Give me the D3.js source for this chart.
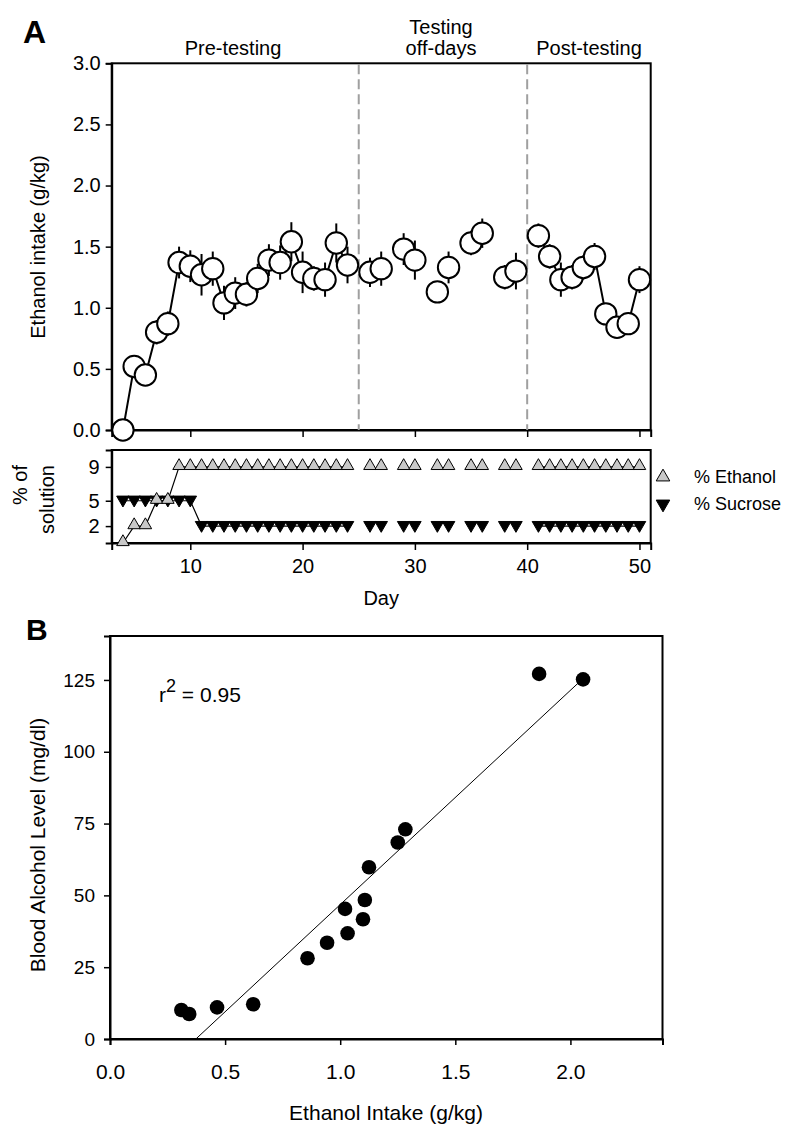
<!DOCTYPE html>
<html>
<head>
<meta charset="utf-8">
<script src="https://cdn.jsdelivr.net/npm/d3@7"></script>
<style>
  html, body { margin: 0; padding: 0; background: #fff; }
  svg { display: block; font-family: "Liberation Sans", Arial, sans-serif; }
</style>
</head>
<body>
<svg id="chart" width="790" height="1138"></svg>
<script>
// ---------------- Data ----------------
// Panel A (top): ethanol intake (g/kg) by day, mean and SEM
const intakeDays = [4,5,6,7,8,9,10,11,12,13,14,15,16,17,18,19,20,21,22,23,24,
                    26,27,29,30,32,33,35,36,38,39,
                    41,42,43,44,45,46,47,48,49,50];
const intakeMean = [0.00,0.52,0.45,0.80,0.87,1.37,1.34,1.27,1.32,1.04,1.12,1.11,1.24,1.39,1.37,1.54,1.29,1.24,1.23,1.53,1.35,
                    1.29,1.32,1.48,1.39,1.13,1.33,1.53,1.61,1.25,1.30,
                    1.59,1.42,1.23,1.25,1.33,1.42,0.95,0.84,0.87,1.23];
const intakeSem  = [0.00,0.09,0.06,0.10,0.10,0.13,0.13,0.17,0.14,0.14,0.13,0.10,0.12,0.13,0.14,0.16,0.17,0.10,0.14,0.16,0.15,
                    0.12,0.14,0.13,0.16,0.08,0.13,0.10,0.12,0.10,0.15,
                    0.10,0.10,0.14,0.10,0.10,0.11,0.08,0.08,0.08,0.11];
// Connected runs of days (first day, last day)
const connectedRuns = [[4,24],[41,50]];
// Phase boundaries and labels
const phaseDividers = [25, 40];
const phaseLabels = [
  {lines: ["Pre-testing"], x: 233},
  {lines: ["Testing", "off-days"], x: 441},
  {lines: ["Post-testing"], x: 589}
];
const intakeYTicks = [0, 0.5, 1.0, 1.5, 2.0, 2.5, 3.0];
const dayTicks = [10, 20, 30, 40, 50];

// Panel A (bottom strip): % of solution
const ethanolPct = [0,2,2,5,5,9,9,9,9,9,9,9,9,9,9,9,9,9,9,9,9,
                    9,9,9,9,9,9,9,9,9,9,
                    9,9,9,9,9,9,9,9,9,9];
const sucrosePct = [5,5,5,5,5,5,5,2,2,2,2,2,2,2,2,2,2,2,2,2,2,
                    2,2,2,2,2,2,2,2,2,2,
                    2,2,2,2,2,2,2,2,2,2];
const pctTicks = [2, 5, 9];
const legendItems = ["% Ethanol", "% Sucrose"];

// Panel B: blood alcohol level vs ethanol intake
const becIntake = [0.310,0.344,0.465,0.622,0.858,0.943,1.021,1.032,1.099,1.107,1.125,1.250,1.283,1.864,2.055];
const becLevel  = [10.1,8.7,11.0,12.1,28.1,33.5,45.3,36.8,41.7,48.4,59.8,68.4,73.0,127.1,125.2];
const fitLineX = [0.373, 2.055];
const fitLineY = [0.0, 125.5];
const becXTicks = [0, 0.5, 1.0, 1.5, 2.0];
const becYTicks = [0, 25, 50, 75, 100, 125];
const rSquared = "0.95";

// ---------------- Drawing ----------------
const svg = d3.select("#chart");
const black = "#000";
const FF = "Liberation Sans, Arial, sans-serif";

// ===== Panel A top =====
const A = {left: 111.7, right: 650.7, top: 63.3, bottom: 430};
const xDay = d3.scaleLinear().domain([3, 51]).range([A.left, A.right]);
const yInt = d3.scaleLinear().domain([0, 3]).range([A.bottom, A.top]);

svg.append("text").attr("x", 23).attr("y", 43)
  .attr("font-size", 32).attr("font-weight", "bold").text("A");

// frame
svg.append("rect").attr("x", A.left).attr("y", A.top)
  .attr("width", A.right - A.left).attr("height", A.bottom - A.top)
  .attr("fill", "none").attr("stroke", black).attr("stroke-width", 2);

// y axis
const yAxisA = svg.append("g").attr("transform", `translate(${A.left},0)`)
  .call(d3.axisLeft(yInt).tickValues(intakeYTicks).tickFormat(d3.format(".1f")).tickSize(6).tickPadding(5));
yAxisA.select(".domain").attr("stroke-width", 2);
yAxisA.selectAll(".tick line").attr("stroke-width", 1.5);
yAxisA.selectAll("text").attr("font-size", 20).attr("font-family", FF).attr("fill", black);

// x axis (ticks only)
const xAxisA = svg.append("g").attr("transform", `translate(0,${A.bottom})`)
  .call(d3.axisBottom(xDay).tickValues(dayTicks).tickFormat("").tickSize(7));
xAxisA.select(".domain").attr("stroke-width", 2);
xAxisA.selectAll(".tick line").attr("stroke-width", 1.5);

// phase dividers
svg.selectAll(".divider").data(phaseDividers).enter().append("line")
  .attr("x1", d => xDay(d)).attr("x2", d => xDay(d))
  .attr("y1", A.top + 1).attr("y2", A.bottom)
  .attr("stroke", "#a0a0a0").attr("stroke-width", 2).attr("stroke-dasharray", "10,5");

// phase labels
phaseLabels.forEach(p => {
  const n = p.lines.length;
  p.lines.forEach((t, i) => {
    svg.append("text").attr("x", p.x).attr("y", 55 - (n - 1 - i) * 21)
      .attr("text-anchor", "middle").attr("font-size", 20).text(t);
  });
});

// y label
svg.append("text").attr("transform", `translate(45,247) rotate(-90)`)
  .attr("text-anchor", "middle").attr("font-size", 20).text("Ethanol intake (g/kg)");

const intakePts = intakeDays.map((d, i) => ({day: d, m: intakeMean[i], s: intakeSem[i]}));

// error bars
svg.append("g").selectAll("line").data(intakePts.filter(p => p.s > 0)).enter().append("line")
  .attr("x1", p => xDay(p.day)).attr("x2", p => xDay(p.day))
  .attr("y1", p => yInt(p.m - p.s)).attr("y2", p => yInt(p.m + p.s))
  .attr("stroke", black).attr("stroke-width", 2);

// connecting lines
const lineA = d3.line().x(p => xDay(p.day)).y(p => yInt(p.m));
connectedRuns.forEach(([a, b]) => {
  svg.append("path").datum(intakePts.filter(p => p.day >= a && p.day <= b))
    .attr("d", lineA).attr("fill", "none").attr("stroke", black).attr("stroke-width", 2);
});

// circles
svg.append("g").selectAll("circle").data(intakePts).enter().append("circle")
  .attr("cx", p => xDay(p.day)).attr("cy", p => yInt(p.m)).attr("r", 10.7)
  .attr("fill", "#fff").attr("stroke", black).attr("stroke-width", 2);

// ===== Panel A bottom strip =====
const S = {left: 111.7, right: 650.7, top: 450, bottom: 543};
const yPct = d3.scaleLinear().domain([0, 11]).range([S.bottom, S.top]);

svg.append("rect").attr("x", S.left).attr("y", S.top)
  .attr("width", S.right - S.left).attr("height", S.bottom - S.top)
  .attr("fill", "none").attr("stroke", black).attr("stroke-width", 2);

const yAxisS = svg.append("g").attr("transform", `translate(${S.left},0)`)
  .call(d3.axisLeft(yPct).tickValues(pctTicks).tickSize(6).tickPadding(6));
yAxisS.select(".domain").attr("stroke-width", 2);
yAxisS.selectAll(".tick line").attr("stroke-width", 1.5);
yAxisS.selectAll("text").attr("font-size", 20).attr("font-family", FF).attr("fill", black);

const xAxisS = svg.append("g").attr("transform", `translate(0,${S.bottom})`)
  .call(d3.axisBottom(xDay).tickValues(dayTicks).tickSize(7).tickPadding(9));
xAxisS.select(".domain").attr("stroke-width", 2);
xAxisS.selectAll(".tick line").attr("stroke-width", 1.5);
xAxisS.selectAll("text").attr("font-size", 20).attr("font-family", FF).attr("fill", black);

svg.append("text").attr("x", xDay(27)).attr("y", 605)
  .attr("text-anchor", "middle").attr("font-size", 20).text("Day");

svg.append("text").attr("transform", `translate(27,465) rotate(-90)`)
  .attr("text-anchor", "end").attr("font-size", 20).text("% of");
svg.append("text").attr("transform", `translate(54,465) rotate(-90)`)
  .attr("text-anchor", "end").attr("font-size", 20).text("solution");

const solPts = intakeDays.map((d, i) => ({day: d, e: ethanolPct[i], s: sucrosePct[i]}));
const triUp = d3.symbol().type(d3.symbolTriangle).size(68)();
const triLeg = d3.symbol().type(d3.symbolTriangle).size(80)();

connectedRuns.forEach(([a, b]) => {
  const sub = solPts.filter(p => p.day >= a && p.day <= b);
  svg.append("path").datum(sub)
    .attr("d", d3.line().x(p => xDay(p.day)).y(p => yPct(p.s)))
    .attr("fill", "none").attr("stroke", black).attr("stroke-width", 1.2);
});
svg.append("g").selectAll("path").data(solPts).enter().append("path")
  .attr("d", triUp)
  .attr("transform", p => `translate(${xDay(p.day)},${yPct(p.s) - 1}) rotate(180)`)
  .attr("fill", black).attr("stroke", black).attr("stroke-width", 1);

connectedRuns.forEach(([a, b]) => {
  const sub = solPts.filter(p => p.day >= a && p.day <= b);
  svg.append("path").datum(sub)
    .attr("d", d3.line().x(p => xDay(p.day)).y(p => yPct(p.e)))
    .attr("fill", "none").attr("stroke", black).attr("stroke-width", 1.2);
});
svg.append("g").selectAll("path").data(solPts).enter().append("path")
  .attr("d", triUp)
  .attr("transform", p => `translate(${xDay(p.day)},${yPct(p.e) - 1})`)
  .attr("fill", "#c8c8c8").attr("stroke", black).attr("stroke-width", 1);

// legend
const legY = [477, 504];
svg.append("path").attr("d", triLeg).attr("transform", `translate(663,${legY[0]})`)
  .attr("fill", "#c8c8c8").attr("stroke", black).attr("stroke-width", 1);
svg.append("path").attr("d", triLeg).attr("transform", `translate(663,${legY[1]}) rotate(180)`)
  .attr("fill", black).attr("stroke", black).attr("stroke-width", 1);
legendItems.forEach((t, i) => {
  svg.append("text").attr("x", 694).attr("y", legY[i] + 6).attr("font-size", 18).text(t);
});

// ===== Panel B =====
const B = {left: 110, right: 662.5, top: 636, bottom: 1039};
const xB = d3.scaleLinear().domain([0, 2.4]).range([B.left, B.right]);
const yB = d3.scaleLinear().domain([0, 140.3]).range([B.bottom, B.top]);

svg.append("text").attr("x", 26).attr("y", 640)
  .attr("font-size", 30).attr("font-weight", "bold").text("B");

svg.append("rect").attr("x", B.left).attr("y", B.top)
  .attr("width", B.right - B.left).attr("height", B.bottom - B.top)
  .attr("fill", "none").attr("stroke", black).attr("stroke-width", 2);

const yAxisB = svg.append("g").attr("transform", `translate(${B.left},0)`)
  .call(d3.axisLeft(yB).tickValues(becYTicks).tickSize(6).tickPadding(9));
yAxisB.select(".domain").attr("stroke-width", 2);
yAxisB.selectAll(".tick line").attr("stroke-width", 1.5);
yAxisB.selectAll("text").attr("font-size", 19).attr("font-family", FF).attr("fill", black);

const xAxisB = svg.append("g").attr("transform", `translate(0,${B.bottom})`)
  .call(d3.axisBottom(xB).tickValues(becXTicks).tickFormat(d3.format(".1f")).tickSize(6).tickPadding(19));
xAxisB.select(".domain").attr("stroke-width", 2);
xAxisB.selectAll(".tick line").attr("stroke-width", 1.5);
xAxisB.selectAll("text").attr("font-size", 21).attr("font-family", FF).attr("fill", black);

svg.append("text").attr("x", 386).attr("y", 1120)
  .attr("text-anchor", "middle").attr("font-size", 21).text("Ethanol Intake (g/kg)");
svg.append("text").attr("transform", `translate(45,845) rotate(-90)`)
  .attr("text-anchor", "middle").attr("font-size", 21).text("Blood Alcohol Level (mg/dl)");

// r^2 annotation
const rt = svg.append("text").attr("x", 159).attr("y", 702).attr("font-size", 21);
rt.append("tspan").text("r");
rt.append("tspan").attr("dy", -10).attr("font-size", 18).text("2");
rt.append("tspan").attr("dy", 10).text(" = " + rSquared);

// fit line
svg.append("line")
  .attr("x1", xB(fitLineX[0])).attr("y1", yB(fitLineY[0]))
  .attr("x2", xB(fitLineX[1])).attr("y2", yB(fitLineY[1]))
  .attr("stroke", black).attr("stroke-width", 1);

// points
svg.append("g").selectAll("circle").data(becIntake.map((x, i) => ({x, y: becLevel[i]}))).enter()
  .append("circle")
  .attr("cx", p => xB(p.x)).attr("cy", p => yB(p.y)).attr("r", 7.3)
  .attr("fill", black);
</script>
</body>
</html>
